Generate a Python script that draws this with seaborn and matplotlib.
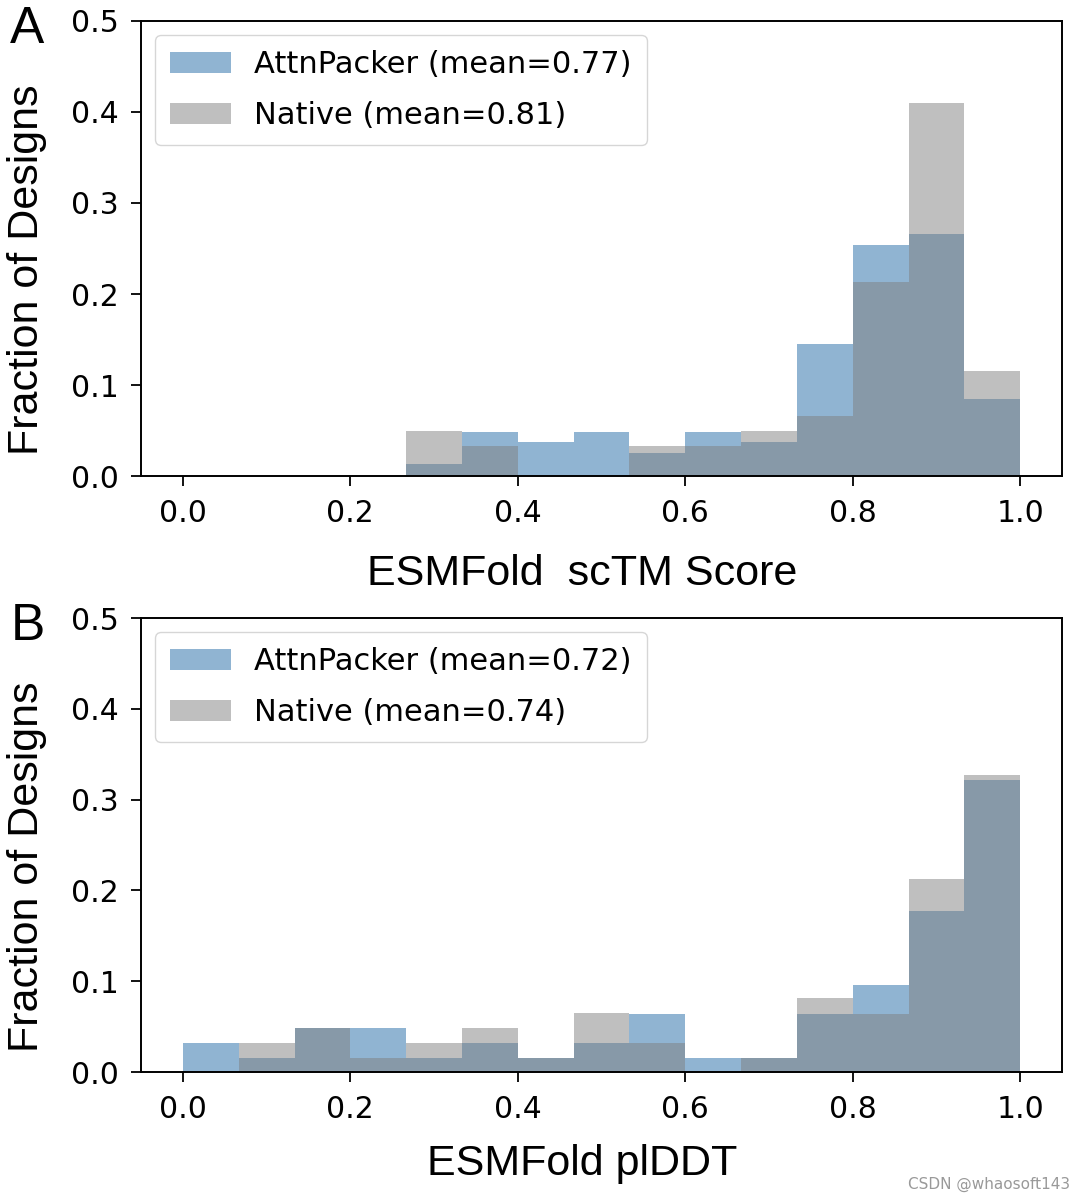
import numpy as np
import pandas as pd
import matplotlib
matplotlib.use("Agg")
import matplotlib.pyplot as plt
from matplotlib.patches import Patch
import seaborn as sns

# 15 equal bins over [0, 1]
n_bins = 15
bin_centers = (np.arange(n_bins) + 0.5) / n_bins

# ----- Panel A: ESMFold scTM score (fractions per bin) -----
sctm_attn = [0, 0, 0, 0, 0.013, 0.048, 0.037, 0.048, 0.025, 0.048, 0.037, 0.145, 0.254, 0.266, 0.085]
sctm_native = [0, 0, 0, 0, 0.049, 0.033, 0, 0, 0.033, 0.033, 0.049, 0.066, 0.213, 0.410, 0.115]
sctm_labels = ["AttnPacker (mean=0.77)", "Native (mean=0.81)"]

# ----- Panel B: ESMFold plDDT (fractions per bin) -----
plddt_attn = [0.032, 0.016, 0.048, 0.048, 0.016, 0.032, 0.016, 0.032, 0.064, 0.016, 0.016, 0.064, 0.096, 0.177, 0.322]
plddt_native = [0, 0.032, 0.048, 0.016, 0.032, 0.048, 0.016, 0.065, 0.032, 0, 0.016, 0.081, 0.064, 0.213, 0.327]
plddt_labels = ["AttnPacker (mean=0.72)", "Native (mean=0.74)"]

sns.set_style("ticks")
plt.rcParams["font.family"] = ["DejaVu Sans"]
plt.rcParams["text.color"] = "black"
plt.rcParams["axes.labelcolor"] = "black"
plt.rcParams["xtick.color"] = "black"
plt.rcParams["ytick.color"] = "black"
plt.rcParams["axes.edgecolor"] = "black"

blue = "steelblue"
grey = "gray"

fig = plt.figure(figsize=(10.84, 11.97), dpi=100)
ax_a = fig.add_axes([0.1301, 0.6023, 0.8496, 0.3802])
ax_b = fig.add_axes([0.1301, 0.1044, 0.8496, 0.3793])


def draw_panel(ax, attn, native, labels, xlabel, letter, xlab_y):
    df = pd.DataFrame({"center": bin_centers, "attn": attn, "native": native})
    sns.histplot(data=df, x="center", weights="attn", bins=n_bins, binrange=(0, 1),
                 color=blue, alpha=0.6, linewidth=0, ax=ax)
    sns.histplot(data=df, x="center", weights="native", bins=n_bins, binrange=(0, 1),
                 color=grey, alpha=0.5, linewidth=0, ax=ax)
    ax.set_xlim(-0.05, 1.05)
    ax.set_ylim(0, 0.5)
    ax.set_xticks(np.arange(0, 1.01, 0.2))
    ax.set_yticks(np.arange(0, 0.51, 0.1))
    ax.tick_params(labelsize=21.5, length=7.2, width=1.3, pad=9, colors="black")
    for s in ax.spines.values():
        s.set_linewidth(1.4)
        s.set_visible(True)
    ax.set_xlabel(xlabel, fontsize=31, family="Liberation Sans")
    ax.set_ylabel("Fraction of Designs", fontsize=31, family="Liberation Sans")
    ax.xaxis.set_label_coords(0.479, xlab_y)
    ax.yaxis.set_label_coords(-0.102, 0.453)
    handles = [Patch(facecolor=blue, alpha=0.6, edgecolor="none"),
               Patch(facecolor=grey, alpha=0.5, edgecolor="none")]
    ax.legend(handles, labels, loc="upper left", fontsize=22, labelspacing=0.72,
              borderpad=0.5, borderaxespad=0.45, handletextpad=0.75)
    ax.text(-0.142, 0.982, letter, transform=ax.transAxes, fontsize=37,
            family="Liberation Sans", va="center", ha="left")


draw_panel(ax_a, sctm_attn, sctm_native, sctm_labels, "ESMFold  scTM Score", "A", -0.171)
draw_panel(ax_b, plddt_attn, plddt_native, plddt_labels, "ESMFold plDDT", "B", -0.159)

fig.text(0.987, 0.004, "CSDN @whaosoft143", ha="right", va="bottom",
         fontsize=11, color="#999999")

fig.savefig("out.png", dpi=100)
